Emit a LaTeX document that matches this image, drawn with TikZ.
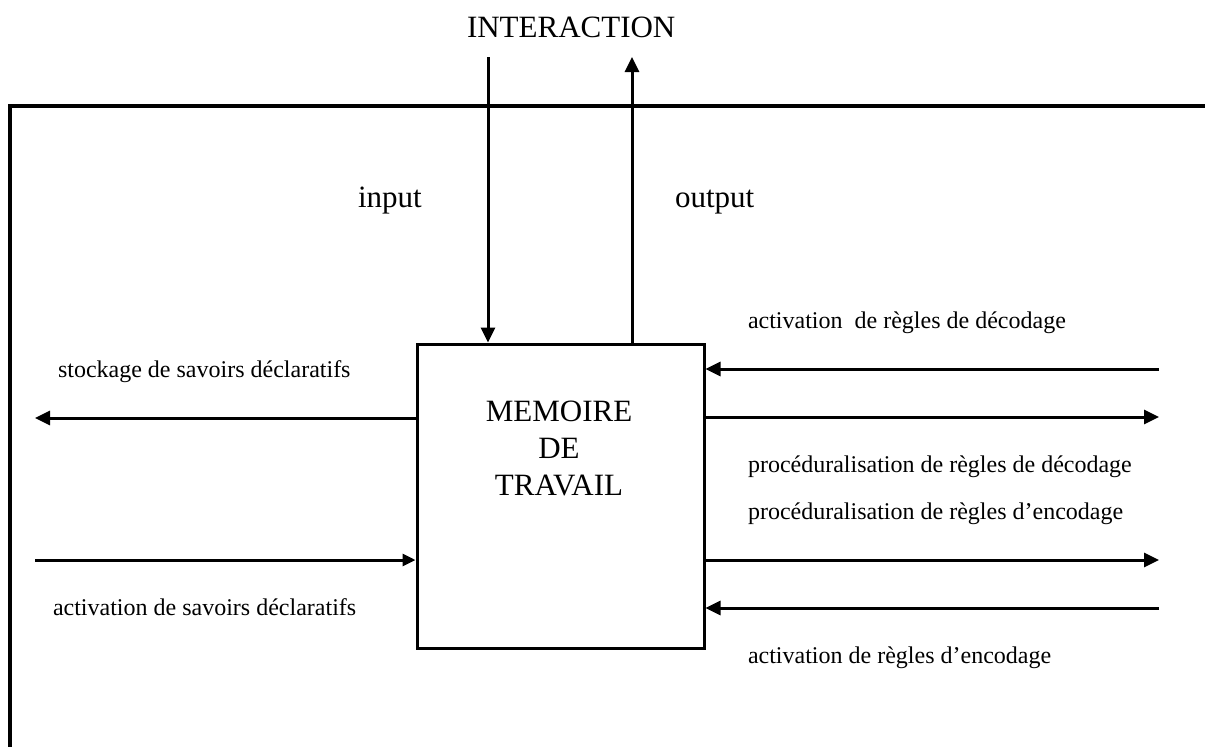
\documentclass[tikz,border=0pt]{standalone}
\usepackage{fontspec}
\setmainfont{Liberation Serif}
\usetikzlibrary{arrows.meta}
\begin{document}
\begin{tikzpicture}[x=1pt,y=-1pt,
  frameline/.style={line width=3.5pt},
  arr/.style={line width=3pt,-{Triangle[length=15pt,width=14pt]}},
  smallarr/.style={line width=3pt,-{Triangle[length=13pt,width=12pt]}},
  big/.style={font=\fontsize{31}{37}\selectfont,inner sep=0pt,outer sep=0pt},
  small/.style={font=\fontsize{24}{29}\selectfont,inner sep=0pt,outer sep=0pt,anchor=base west},
  mem/.style={draw,line width=3pt,minimum width=287pt,minimum height=304pt,inner sep=0pt}]
\useasboundingbox (0,0) rectangle (1205,747);
% frame
\coordinate (fTR) at (1205,106);
\coordinate (fTL) at (10,106);
\coordinate (fBL) at (10,747);
\draw[frameline] (fTR) -- (fTL) -- (fBL);
% box
\node[mem] (box) at (560.5,496) {};
\node[big,anchor=north,align=center] (boxtext) at (559,401) {MEMOIRE\\DE\\TRAVAIL};
% top labels
\node[big,anchor=base west] (interaction) at (467,37) {INTERACTION};
\node[big,anchor=base west] (input) at (358,207) {input};
\node[big,anchor=base west] (output) at (675,207) {output};
% input / output
\coordinate (inTop) at (488,57);
\coordinate (outTop) at (632,57);
\draw[arr] (inTop) -- (inTop |- box.north);
\draw[arr] (outTop |- box.north) -- (outTop);
% left side
\coordinate (stoEnd) at (35,418);
\coordinate (actStart) at (35,560);
\draw[arr] (stoEnd -| box.west) -- (stoEnd);
\draw[smallarr] (actStart) -- (actStart -| box.west);
\node[small] (sto) at (58,377) {stockage de savoirs déclaratifs};
\node[small] (actsav) at (53,615) {activation de savoirs déclaratifs};
% right side
\coordinate (r1) at (1159,369);
\coordinate (r2) at (1159,417);
\coordinate (r3) at (1159,560);
\coordinate (r4) at (1159,608);
\draw[arr] (r1) -- (r1 -| box.east);
\draw[arr] (r2 -| box.east) -- (r2);
\draw[arr] (r3 -| box.east) -- (r3);
\draw[arr] (r4) -- (r4 -| box.east);
\node[small] (actdec) at (748,328) {activation\ \ de règles de décodage};
\node[small] (procdec) at (748,472) {procéduralisation de règles de décodage};
\node[small] (procenc) at (748,519) {procéduralisation de règles d’encodage};
\node[small] (actenc) at (748,663) {activation de règles d’encodage};
\end{tikzpicture}
\end{document}
